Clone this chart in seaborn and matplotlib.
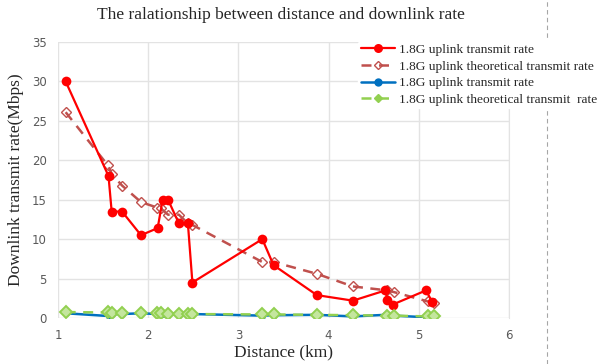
import matplotlib
matplotlib.use("Agg")
import matplotlib.pyplot as plt
from matplotlib.lines import Line2D
import seaborn as sns
import pandas as pd

# ---- data ----
dist_meas = [1.085, 1.56, 1.595, 1.71, 1.92, 2.105, 2.16, 2.22, 2.34, 2.44, 2.49,
             3.265, 3.39, 3.87, 4.27, 4.63, 4.65, 4.71, 5.08, 5.15]
red_rate = [30, 18, 13.5, 13.5, 10.5, 11.4, 15, 15, 12, 12, 4.5,
            10, 6.7, 2.9, 2.2, 3.5, 2.3, 1.7, 3.5, 2.0]
blue_rate = [0.6, 0.25, 0.5, 0.5, 0.6, 0.5, 0.5, 0.5, 0.5, 0.5, 0.5,
             0.3, 0.35, 0.4, 0.2, 0.4, 0.35, 0.3, 0.1, 0.15]

dist_theo = [1.085, 1.55, 1.6, 1.71, 1.92, 2.1, 2.14, 2.22, 2.34, 2.44, 2.49,
             3.265, 3.39, 3.87, 4.27, 4.65, 4.72, 5.1, 5.17]
red_theo = [26.1, 19.4, 18.2, 16.8, 14.7, 14.0, 13.9, 13.1, 13.1, 12.0, 11.8,
            7.1, 7.1, 5.6, 4.0, 3.5, 3.3, 2.1, 1.95]
green_theo = [0.75, 0.7, 0.65, 0.65, 0.65, 0.6, 0.6, 0.55, 0.55, 0.55, 0.5,
              0.45, 0.45, 0.4, 0.35, 0.3, 0.3, 0.2, 0.2]

labels = ["1.8G uplink transmit rate",
          "1.8G uplink theoretical transmit rate",
          "1.8G uplink transmit rate",
          "1.8G uplink theoretical transmit  rate"]

x_ticks = [1, 2, 3, 4, 5, 6]
y_ticks = [0, 5, 10, 15, 20, 25, 30, 35]

sns.set_style("white")
plt.rcParams['font.family'] = ['DejaVu Sans']

fig = plt.figure(figsize=(6.05, 3.64), dpi=100)
ax = fig.add_axes([58/605, 1-318/364, (509-58)/605, (318-42)/364])

df_meas = pd.DataFrame({"d": dist_meas, "red": red_rate, "blue": blue_rate})
df_theo = pd.DataFrame({"d": dist_theo, "red": red_theo, "green": green_theo})

sns.lineplot(data=df_theo, x="d", y="red", ax=ax, sort=False, color="#C0504D",
             linestyle=(0, (4, 3)), linewidth=1.8, marker="D", markersize=5.5,
             markerfacecolor="none", markeredgecolor="#C0504D", markeredgewidth=1.0, zorder=3)
sns.lineplot(data=df_meas, x="d", y="red", ax=ax, sort=False, color="#FF0000",
             linewidth=1.6, marker="o", markersize=7, markeredgewidth=0, zorder=4)
sns.lineplot(data=df_meas, x="d", y="blue", ax=ax, sort=False, color="#0070C0",
             linewidth=1.8, marker="o", markersize=5, markeredgewidth=0, zorder=4)
sns.lineplot(data=df_theo, x="d", y="green", ax=ax, sort=False, color="#92D050",
             linestyle=(0, (4, 3)), linewidth=1.8, marker="D", markersize=6,
             markerfacecolor="#C4E69E", markeredgecolor="#92D050", markeredgewidth=1.4, zorder=5)

ax.set_xlim(1, 6)
ax.set_ylim(0, 35)
ax.set_xticks(x_ticks)
ax.set_yticks(y_ticks)
ax.grid(True, color="#E3E3E3", linewidth=1.0)
ax.set_axisbelow(True)
for s in ax.spines.values():
    s.set_visible(False)
ax.spines["right"].set_visible(True)
ax.spines["right"].set_color("#E3E3E3")
ax.tick_params(axis="both", length=0, labelsize=8.5, labelcolor="#595959", pad=8)

serif = ["Liberation Serif", "DejaVu Serif"]
ax.set_xlabel("Distance (km)", family=serif, fontsize=12.5, labelpad=2)
ax.set_ylabel("Downlink transmit rate(Mbps)", family=serif, fontsize=12.5, labelpad=6)
fig.text(281/605, 1-15/364, "The ralationship between distance and downlink rate",
         family=serif, fontsize=12.5, ha="center", va="center")

handles = [
    Line2D([], [], color="#FF0000", lw=1.6, marker="o", markersize=6.5, markeredgewidth=0),
    Line2D([], [], color="#C0504D", lw=1.8, ls=(0, (4, 3)), marker="D", markersize=4,
           markerfacecolor="none", markeredgecolor="#C0504D"),
    Line2D([], [], color="#0070C0", lw=1.8, marker="o", markersize=6, markeredgewidth=0),
    Line2D([], [], color="#92D050", lw=1.8, ls=(0, (4, 3)), marker="D", markersize=4,
           markerfacecolor="#92D050", markeredgecolor="#92D050"),
]
leg = fig.legend(handles, labels, loc="upper left", bbox_to_anchor=(358/605, 1-41/364),
                 frameon=True, facecolor="white", edgecolor="white", framealpha=1,
                 prop={"family": serif, "size": 9.6}, handlelength=2.6, handletextpad=0.3,
                 labelspacing=0.32, borderpad=0.2, borderaxespad=0)

fig.add_artist(Line2D([547/605, 547/605], [0, 1], color="#A6A6A6", lw=0.8,
                      ls=(0, (4, 3))))

fig.savefig("out.png", dpi=100)
